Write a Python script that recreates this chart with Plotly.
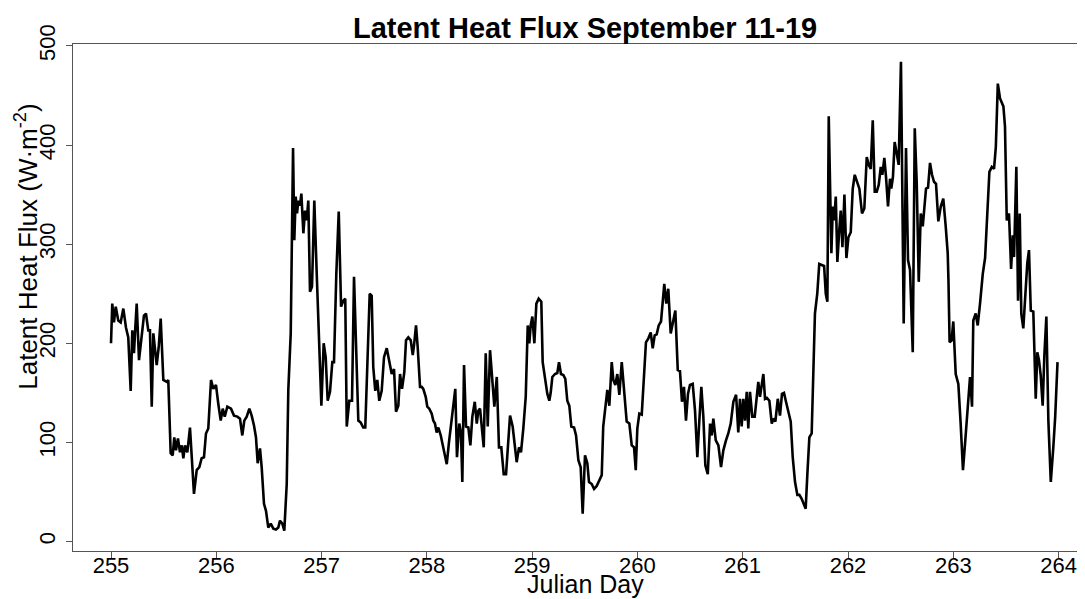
import plotly.graph_objects as go

julian_day = [
    255.000, 255.012, 255.028, 255.045, 255.069, 255.092, 255.117, 255.142, 255.164, 255.187,
    255.202, 255.218, 255.231, 255.244, 255.266, 255.292, 255.313, 255.332, 255.354, 255.370,
    255.387, 255.402, 255.418, 255.434, 255.453, 255.472, 255.497, 255.529, 255.544, 255.567,
    255.586, 255.601, 255.617, 255.636, 255.655, 255.672, 255.687, 255.703, 255.725, 255.750,
    255.788, 255.814, 255.839, 255.861, 255.883, 255.902, 255.924, 255.950, 255.972, 255.997,
    256.019, 256.042, 256.061, 256.080, 256.105, 256.140, 256.168, 256.200, 256.225, 256.247,
    256.266, 256.289, 256.314, 256.336, 256.358, 256.377, 256.393, 256.415, 256.431, 256.453,
    256.472, 256.494, 256.517, 256.542, 256.567, 256.589, 256.605, 256.627, 256.646, 256.669,
    256.684, 256.707, 256.729, 256.741, 256.754, 256.767, 256.779, 256.795, 256.808, 256.827,
    256.843, 256.859, 256.874, 256.890, 256.909, 256.931, 256.954, 256.976, 256.998, 257.020,
    257.039, 257.058, 257.080, 257.102, 257.118, 257.140, 257.163, 257.185, 257.207, 257.225,
    257.239, 257.263, 257.289, 257.308, 257.327, 257.349, 257.372, 257.396, 257.415, 257.434,
    257.457, 257.476, 257.491, 257.510, 257.529, 257.548, 257.571, 257.593, 257.619, 257.641,
    257.666, 257.688, 257.707, 257.729, 257.745, 257.764, 257.786, 257.802, 257.824, 257.847,
    257.866, 257.878, 257.897, 257.913, 257.935, 257.951, 257.966, 257.989, 258.004, 258.023,
    258.046, 258.061, 258.077, 258.093, 258.109, 258.132, 258.156, 258.189, 258.210, 258.236,
    258.251, 258.270, 258.286, 258.308, 258.324, 258.337, 258.353, 258.372, 258.394, 258.413,
    258.432, 258.455, 258.474, 258.489, 258.505, 258.521, 258.540, 258.559, 258.578, 258.600,
    258.622, 258.641, 258.664, 258.685, 258.707, 258.730, 258.752, 258.771, 258.790, 258.815,
    258.831, 258.853, 258.875, 258.894, 258.916, 258.939, 258.958, 258.973, 258.986, 259.002,
    259.021, 259.040, 259.062, 259.087, 259.100, 259.122, 259.144, 259.163, 259.176, 259.192,
    259.217, 259.239, 259.255, 259.274, 259.296, 259.315, 259.334, 259.353, 259.372, 259.398,
    259.417, 259.439, 259.461, 259.480, 259.502, 259.524, 259.540, 259.566, 259.588, 259.613,
    259.638, 259.661, 259.675, 259.698, 259.714, 259.733, 259.756, 259.771, 259.790, 259.809,
    259.828, 259.851, 259.873, 259.898, 259.923, 259.946, 259.968, 259.984, 259.999, 260.018,
    260.041, 260.056, 260.081, 260.104, 260.126, 260.145, 260.164, 260.183, 260.202, 260.224,
    260.240, 260.255, 260.274, 260.293, 260.316, 260.335, 260.360, 260.383, 260.404, 260.423,
    260.442, 260.461, 260.480, 260.499, 260.525, 260.547, 260.569, 260.588, 260.607, 260.626,
    260.645, 260.668, 260.690, 260.706, 260.721, 260.744, 260.769, 260.794, 260.816, 260.841,
    260.863, 260.886, 260.911, 260.937, 260.958, 260.974, 260.990, 261.006, 261.022, 261.038,
    261.053, 261.069, 261.091, 261.114, 261.133, 261.148, 261.164, 261.181, 261.196, 261.212,
    261.229, 261.253, 261.276, 261.291, 261.310, 261.333, 261.354, 261.373, 261.392, 261.411,
    261.433, 261.456, 261.475, 261.497, 261.519, 261.538, 261.560, 261.582, 261.598, 261.614,
    261.633, 261.655, 261.670, 261.686, 261.708, 261.727, 261.750, 261.773, 261.789, 261.804,
    261.817, 261.830, 261.842, 261.856, 261.868, 261.884, 261.899, 261.915, 261.931, 261.947,
    261.966, 261.985, 262.004, 262.026, 262.045, 262.064, 262.083, 262.108, 262.133, 262.155,
    262.178, 262.197, 262.216, 262.235, 262.254, 262.273, 262.292, 262.311, 262.326, 262.345,
    262.361, 262.380, 262.399, 262.411, 262.427, 262.443, 262.462, 262.481, 262.503, 262.529,
    262.551, 262.570, 262.589, 262.615, 262.634, 262.653, 262.672, 262.691, 262.710, 262.729,
    262.741, 262.760, 262.779, 262.798, 262.817, 262.836, 262.858, 262.881, 262.905, 262.928,
    262.947, 262.954, 262.965, 262.984, 263.000, 263.023, 263.048, 263.070, 263.092, 263.114,
    263.137, 263.159, 263.178, 263.190, 263.213, 263.232, 263.254, 263.280, 263.302, 263.324,
    263.343, 263.366, 263.387, 263.404, 263.423, 263.444, 263.476, 263.491, 263.508, 263.529,
    263.549, 263.565, 263.577, 263.599, 263.615, 263.631, 263.646, 263.665, 263.684, 263.703,
    263.719, 263.736, 263.760, 263.783, 263.798, 263.814, 263.830, 263.849, 263.865, 263.884,
    263.903, 263.926, 263.950, 263.968, 263.990,
]

latent_heat_flux = [
    200, 240, 221, 237, 223, 221, 235, 216, 206, 152,
    213, 190, 216, 240, 183, 210, 228, 230, 213, 213,
    136, 210, 196, 178, 196, 225, 163, 161, 163, 89,
    87, 105, 92, 104, 90, 97, 84, 97, 90, 115,
    48, 72, 75, 84, 85, 109, 114, 163, 154, 158,
    139, 122, 134, 126, 136, 134, 127, 126, 124, 107,
    122, 126, 134, 127, 117, 105, 79, 94, 75, 38,
    31, 14, 18, 13, 12, 14, 21, 18, 11, 58,
    153, 210, 397, 304, 348, 331, 344, 339, 351, 311,
    334, 324, 344, 252, 257, 344, 270, 203, 137, 200,
    186, 142, 151, 181, 181, 270, 333, 237, 243, 245,
    116, 142, 142, 267, 203, 122, 120, 115, 115, 180,
    250, 248, 176, 152, 163, 142, 152, 186, 195, 183,
    169, 174, 131, 137, 169, 154, 171, 203, 206, 203,
    188, 198, 218, 196, 156, 156, 154, 146, 136, 134,
    129, 122, 119, 110, 115, 107, 94, 78, 100, 126,
    141, 154, 85, 119, 109, 60, 178, 116, 115, 97,
    126, 141, 119, 132, 134, 119, 95, 190, 116, 193,
    156, 136, 166, 95, 95, 68, 68, 99, 127, 116,
    102, 80, 95, 90, 114, 146, 218, 200, 218, 227,
    200, 240, 245, 242, 181, 166, 149, 142, 150, 166,
    169, 170, 181, 169, 168, 164, 142, 137, 116, 115,
    107, 82, 75, 28, 87, 79, 60, 58, 53, 56,
    62, 67, 116, 142, 153, 137, 181, 163, 158, 169,
    148, 181, 156, 121, 119, 97, 95, 72, 114, 129,
    128, 159, 201, 205, 211, 195, 208, 209, 218, 222,
    247, 260, 240, 255, 210, 220, 233, 173, 172, 141,
    156, 122, 149, 158, 159, 132, 85, 122, 156, 126,
    77, 68, 119, 107, 124, 102, 97, 75, 92, 102,
    109, 119, 141, 148, 110, 144, 116, 144, 122, 151,
    114, 151, 126, 126, 149, 161, 146, 159, 169, 144,
    145, 142, 119, 124, 121, 144, 127, 149, 150, 141,
    131, 121, 85, 60, 47, 47, 43, 38, 33, 68,
    105, 109, 159, 230, 250, 280, 279, 278, 250, 242,
    429, 365, 291, 338, 324, 348, 282, 311, 334, 297,
    350, 286, 307, 312, 356, 370, 363, 356, 331, 336,
    388, 380, 376, 425, 353, 353, 360, 378, 370, 387,
    368, 338, 366, 356, 368, 403, 392, 380, 484, 220,
    397, 284, 274, 191, 417, 361, 262, 331, 318, 338,
    356, 357, 382, 370, 363, 361, 323, 338, 346, 318,
    291, 264, 201, 203, 222, 169, 159, 119, 72, 102,
    139, 166, 136, 223, 230, 218, 240, 270, 286, 331,
    373, 378, 376, 398, 462, 447, 439, 419, 324, 331,
    275, 309, 287, 378, 243, 331, 230, 215, 250, 281,
    294, 233, 232, 144, 191, 183, 168, 137, 188, 227,
    122, 60, 95, 126, 181,
]

x_ticks = [255, 256, 257, 258, 259, 260, 261, 262, 263, 264]
y_ticks = [0, 100, 200, 300, 400, 500]

FONT = "Liberation Sans, Arial, sans-serif"

fig = go.Figure()
fig.add_trace(go.Scatter(
    x=julian_day, y=latent_heat_flux, mode="lines",
    line=dict(color="black", width=2.6), showlegend=False, hoverinfo="x+y",
))

# the page body keeps its default 8px margin, so the figure is 8px smaller
fig.update_layout(
    width=1077, height=591,
    paper_bgcolor="white", plot_bgcolor="white",
    margin=dict(l=65, r=0, t=36, b=48, autoexpand=False),
    font=dict(family=FONT, color="black"),
    title=dict(text="<b>Latent Heat Flux September 11-19</b>",
               x=0.506, xref="paper", xanchor="center",
               y=0.966, yref="container", yanchor="middle",
               font=dict(size=29, family=FONT, color="black")),
    annotations=[
        dict(text="Julian Day", xref="paper", yref="paper", x=0.506, y=-0.066,
             xanchor="center", yanchor="middle", showarrow=False,
             font=dict(size=25, family=FONT, color="black")),
        dict(text="Latent Heat Flux (W·m<sup>-2</sup>)", xref="paper", yref="paper",
             x=-0.0455, y=0.600, xanchor="center", yanchor="middle", textangle=-90,
             showarrow=False, font=dict(size=26, family=FONT, color="black")),
    ],
)

fig.update_xaxes(
    range=[254.639, 264.251], tickmode="array", tickvals=x_ticks,
    ticks="outside", ticklen=6, tickwidth=1, tickcolor="#555",
    showline=True, linecolor="#555", linewidth=1, mirror=True,
    showgrid=False, zeroline=False, automargin=False,
    ticklabelstandoff=-11,
    tickfont=dict(size=22, family=FONT, color="black"),
)
fig.update_yaxes(
    range=[-9.6, 502], tickmode="array", tickvals=y_ticks,
    ticks="outside", ticklen=6, tickwidth=1, tickcolor="#555",
    showline=True, linecolor="#555", linewidth=1, mirror=False,
    showgrid=False, zeroline=False, tickangle=-90, automargin=False,
    ticklabelstandoff=2,
    tickfont=dict(size=22, family=FONT, color="black"),
)

fig.write_html("out.html")
